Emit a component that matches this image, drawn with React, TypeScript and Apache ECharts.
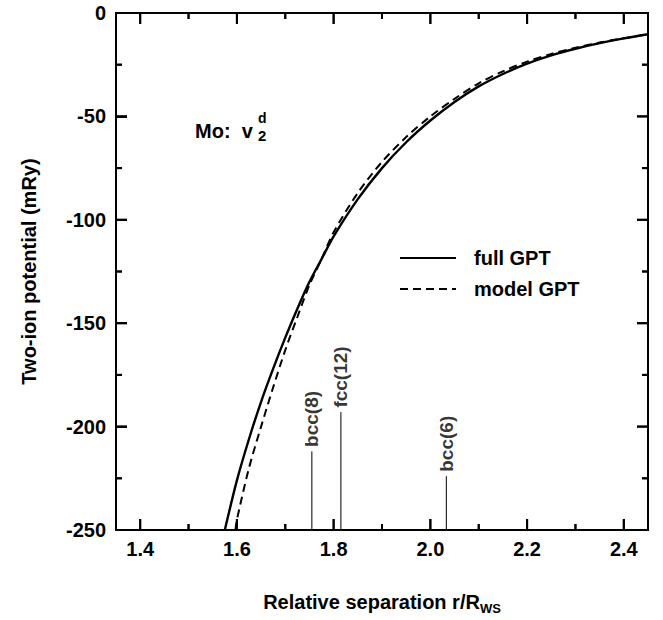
import React, { useEffect, useRef } from 'react';
import * as echarts from 'echarts';

// full GPT curve
const fullX = [1.575, 1.6, 1.625, 1.65, 1.675, 1.7, 1.725, 1.75, 1.775, 1.8, 1.85, 1.9, 1.95, 2.0, 2.05, 2.1, 2.15, 2.2, 2.25, 2.3, 2.35, 2.4, 2.45];
const fullY = [-250, -226, -206, -188, -172, -157, -143, -130, -119, -108, -90, -75, -62.5, -52, -43, -35.5, -29.5, -24.5, -20.5, -17.3, -14.6, -12.3, -10.3];
// model GPT curve
const modelX = [1.597, 1.6, 1.625, 1.65, 1.675, 1.7, 1.725, 1.75, 1.775, 1.8, 1.85, 1.9, 1.95, 2.0, 2.05, 2.1, 2.15, 2.2, 2.25, 2.3, 2.35, 2.4, 2.45];
const modelY = [-250, -245, -220, -200, -181, -163, -147, -131.5, -119, -106, -87, -72, -60, -50, -41.5, -34, -28.2, -23.5, -19.8, -16.8, -14.3, -12.2, -10.3];
// neighbour-shell markers
const markerNames = ['bcc(8)', 'fcc(12)', 'bcc(6)'];
const markerX = [1.755, 1.815, 2.033];
const markerTop = [-212, -193, -224];
// ticks
const xMajor = [1.4, 1.6, 1.8, 2.0, 2.2, 2.4];
const xMinor = [1.5, 1.7, 1.9, 2.1, 2.3];
const yMajor = [-200, -150, -100, -50];
const yMinor = [-225, -175, -125, -75, -25];
const xMin = 1.35;
const xMax = 2.45;
const yMin = -250;
const yMax = 0;
const seriesNames = ['full GPT', 'model GPT'];

const FONT = '"Liberation Sans", Arial, sans-serif';
const BLACK = '#000';
const MAJOR_LEN = 11;
const MINOR_LEN = 6;
const TICK_W = 2;
const W = 663;
const H = 620;
const GRID = { left: 116, right: 15, top: 13, bottom: 88 };

export default function App() {
  const ref = useRef<HTMLDivElement>(null);
  useEffect(() => {
    if (!ref.current) return;
    const chart = echarts.init(ref.current, null, { renderer: 'svg' });

    const labelFont = { color: BLACK, fontFamily: FONT, fontWeight: 'bold', fontSize: 20 };

    // tick segments in data units, drawn through the line series
    const plotW = W - GRID.left - GRID.right;
    const plotH = H - GRID.top - GRID.bottom;
    const xPerPx = (xMax - xMin) / plotW;
    const yPerPx = (yMax - yMin) / plotH;
    const segs: number[][][] = [];
    const pushX = (v: number, len: number) => {
      segs.push([[v, yMin], [v, yMin + len * yPerPx]]);
      segs.push([[v, yMax], [v, yMax - len * yPerPx]]);
    };
    const pushY = (v: number, len: number) => {
      segs.push([[xMin, v], [xMin + len * xPerPx, v]]);
      segs.push([[xMax, v], [xMax - len * xPerPx, v]]);
    };
    xMajor.forEach((v) => pushX(v, MAJOR_LEN));
    xMinor.forEach((v) => pushX(v, MINOR_LEN));
    yMajor.forEach((v) => pushY(v, MAJOR_LEN));
    yMinor.forEach((v) => pushY(v, MINOR_LEN));
    const tickSeries = segs.map((seg, i) => ({
      type: 'line',
      name: 'tick' + i,
      data: seg,
      symbol: 'none',
      silent: true,
      lineStyle: { color: BLACK, width: TICK_W },
      z: 4,
    }));

    const markerLineSeries = markerX.map((x, i) => ({
      type: 'line',
      name: markerNames[i],
      data: [[x, yMin], [x, markerTop[i]]],
      symbol: 'none',
      silent: true,
      lineStyle: { color: BLACK, width: 1 },
      z: 1,
    }));
    const markerLabelSeries = {
      type: 'scatter',
      name: 'markers',
      symbolSize: 1,
      itemStyle: { color: 'rgba(0,0,0,0)' },
      silent: true,
      data: markerX.map((x, i) => ({
        value: [x, markerTop[i]],
        label: {
          show: true,
          formatter: markerNames[i],
          position: 'top',
          distance: 4,
          rotate: 90,
          align: 'left',
          verticalAlign: 'middle',
          color: BLACK,
          fontFamily: FONT,
          fontWeight: 'bold',
          fontSize: 19,
        },
      })),
    };

    const textStyle = { fill: BLACK, fontFamily: FONT, fontWeight: 'bold' };
    const annotation = [
      { type: 'text', left: 195, top: 121, style: { ...textStyle, text: 'Mo:  v', fontSize: 20 } },
      { type: 'text', left: 258, top: 111, style: { ...textStyle, text: 'd', fontSize: 14 } },
      { type: 'text', left: 258, top: 128, style: { ...textStyle, text: '2', fontSize: 15 } },
    ];

    chart.setOption({
      animation: false,
      grid: { ...GRID, show: true, borderColor: BLACK, borderWidth: 2, backgroundColor: 'transparent' },
      xAxis: {
        type: 'value',
        min: xMin,
        max: xMax,
        axisLine: { show: true, onZero: false, lineStyle: { color: BLACK, width: 2 } },
        axisTick: { show: false },
        axisLabel: {
          show: true,
          customValues: xMajor,
          margin: 9,
          ...labelFont,
          formatter: (v: number) => v.toFixed(1),
        },
        splitLine: { show: false },
        name: '{m|Relative separation r/R}{s|WS}',
        nameLocation: 'middle',
        nameGap: 59,
        nameTextStyle: {
          color: BLACK,
          fontFamily: FONT,
          fontWeight: 'bold',
          rich: {
            m: { fontSize: 20, fontWeight: 'bold', fontFamily: FONT, color: BLACK, lineHeight: 26 },
            s: { fontSize: 13, fontWeight: 'bold', fontFamily: FONT, color: BLACK, verticalAlign: 'bottom', lineHeight: 26 },
          },
        },
      },
      yAxis: {
        type: 'value',
        min: yMin,
        max: yMax,
        interval: 50,
        axisLine: { show: true, onZero: false, lineStyle: { color: BLACK, width: 2 } },
        axisTick: { show: true, inside: true, length: MAJOR_LEN, lineStyle: { color: BLACK, width: TICK_W } },
        axisLabel: { show: true, margin: 10, ...labelFont },
        splitLine: { show: false },
        name: 'Two-ion potential (mRy)',
        nameLocation: 'middle',
        nameRotate: 90,
        nameGap: 77,
        nameTextStyle: { ...labelFont },
      },
      legend: {
        data: seriesNames,
        orient: 'vertical',
        left: 394,
        top: 243,
        itemWidth: 56,
        itemHeight: 14,
        itemGap: 11,
        selectedMode: false,
        itemStyle: { opacity: 0 },
        textStyle: { ...labelFont, padding: [0, 0, 0, 13] },
      },
      series: [
        {
          type: 'line',
          name: seriesNames[0],
          data: fullX.map((x, i) => [x, fullY[i]]),
          symbol: 'none',
          smooth: 0.3,
          lineStyle: { color: BLACK, width: 2.4, type: 'solid' },
          itemStyle: { color: BLACK },
          z: 3,
        },
        {
          type: 'line',
          name: seriesNames[1],
          data: modelX.map((x, i) => [x, modelY[i]]),
          symbol: 'none',
          smooth: 0.3,
          lineStyle: { color: BLACK, width: 2, type: [8, 5] },
          itemStyle: { color: BLACK },
          z: 3,
        },
        ...markerLineSeries,
        markerLabelSeries,
        ...tickSeries,
      ],
    });

    // Inward frame ticks as filled rectangles, placed through the chart's own coordinate conversion
    const els: any[] = [];
    try {
      const toPx = (p: number[]) => chart.convertToPixel({ xAxisIndex: 0, yAxisIndex: 0 }, p) as number[];
      const fill = { fill: BLACK };
      const addX = (v: number, len: number) => {
        const b = toPx([v, yMin]);
        const t = toPx([v, yMax]);
        els.push({ type: 'rect', z: 50, shape: { x: b[0] - TICK_W / 2, y: b[1] - len, width: TICK_W, height: len }, style: fill });
        els.push({ type: 'rect', z: 50, shape: { x: t[0] - TICK_W / 2, y: t[1], width: TICK_W, height: len }, style: fill });
      };
      const addY = (v: number, len: number) => {
        const l = toPx([xMin, v]);
        const r = toPx([xMax, v]);
        els.push({ type: 'rect', z: 50, shape: { x: l[0], y: l[1] - TICK_W / 2, width: len, height: TICK_W }, style: fill });
        els.push({ type: 'rect', z: 50, shape: { x: r[0] - len, y: r[1] - TICK_W / 2, width: len, height: TICK_W }, style: fill });
      };
      xMajor.forEach((v) => addX(v, MAJOR_LEN));
      xMinor.forEach((v) => addX(v, MINOR_LEN));
      yMajor.forEach((v) => addY(v, MAJOR_LEN));
      yMinor.forEach((v) => addY(v, MINOR_LEN));
    } catch (e) {
      // keep the annotations even if conversion fails
    }
    chart.setOption({ graphic: [...annotation, ...els] });

    return () => chart.dispose();
  }, []);
  return <div ref={ref} style={{ position: 'absolute', left: 0, top: 0, width: W, height: H, background: '#fff' }} />;
}
